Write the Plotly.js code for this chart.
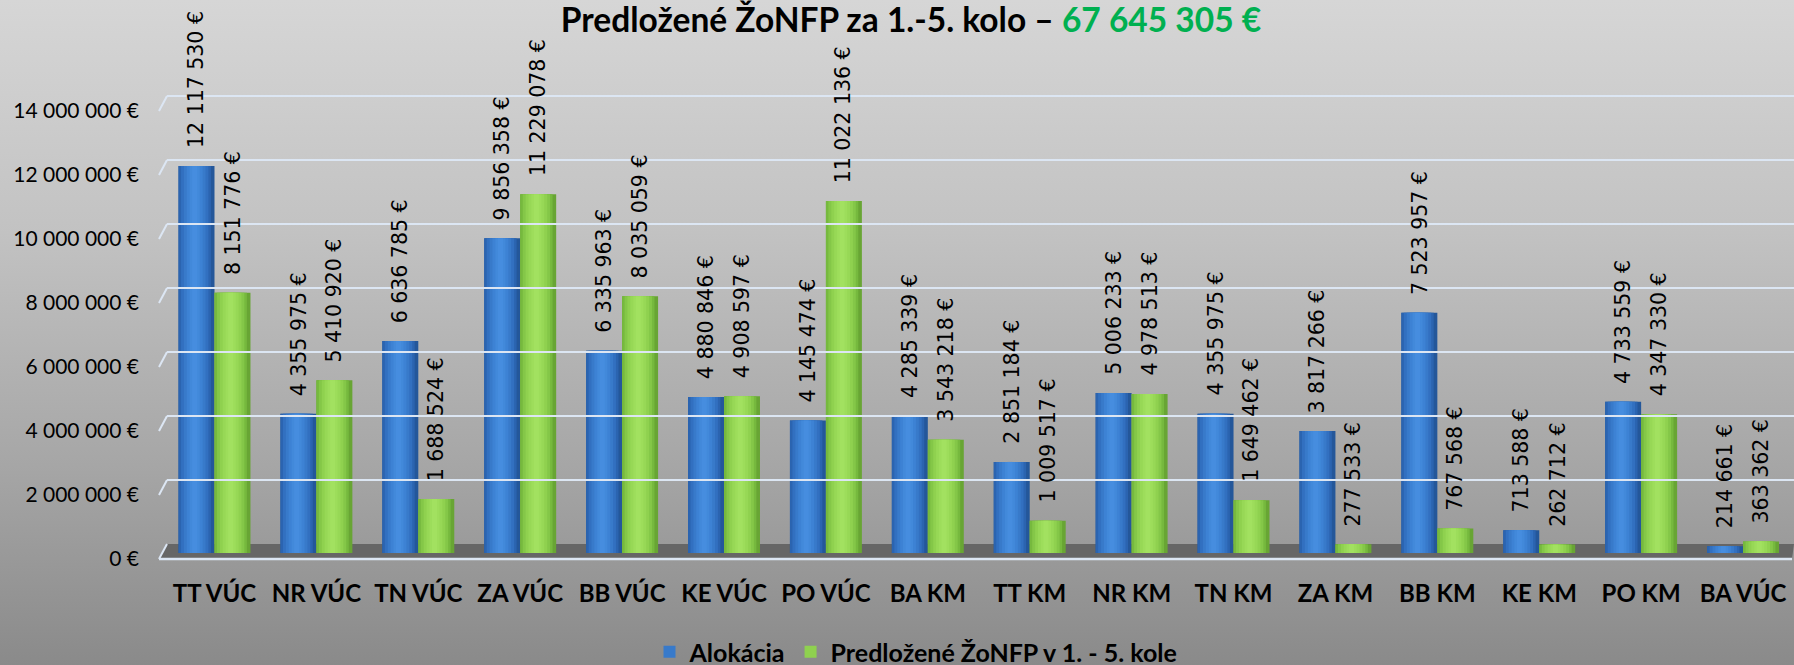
<!DOCTYPE html>
<html>
<head>
<meta charset="utf-8">
<script src="https://cdn.plot.ly/plotly-3.0.1.min.js"></script>
<style>
  html, body { margin: 0; padding: 0; }
  body { width: 1794px; height: 665px; background: linear-gradient(to bottom, #d6d6d6 0%, #c2c2c2 35%, #a6a6a6 70%, #8a8a8a 100%); }
  #chart { width: 1794px; height: 665px; }
</style>
</head>
<body>
<div id="chart"></div>
<script>
const categories = ["TT VÚC","NR VÚC","TN VÚC","ZA VÚC","BB VÚC","KE VÚC","PO VÚC","BA KM","TT KM","NR KM","TN KM","ZA KM","BB KM","KE KM","PO KM","BA VÚC"];
const alokacia = [12117530, 4355975, 6636785, 9856358, 6335963, 4880846, 4145474, 4285339, 2851184, 5006233, 4355975, 3817266, 7523957, 713588, 4733559, 214661];
const predlozene = [8151776, 5410920, 1688524, 11229078, 8035059, 4908597, 11022136, 3543218, 1009517, 4978513, 1649462, 277533, 767568, 262712, 4347330, 363362];
const seriesNames = ["Alokácia", "Predložené ŽoNFP v 1. - 5. kole"];
const yTickVals = [0, 2000000, 4000000, 6000000, 8000000, 10000000, 12000000, 14000000];
const titleMain = "Predložené ŽoNFP za 1.-5. kolo – ";
const titleTotal = "67 645 305 €";

const W = 1794, H = 665;
const px = v => v / W;            // paper x from pixel
const pyf = v => (H - v) / H;     // paper y from pixel

const bw = 0.353; // bar width in category units
const fmt = v => String(v).replace(/\B(?=(\d{3})+(?!\d))/g, " ") + " €";

const seriesDefs = [
  { name: seriesNames[0], values: alokacia, start: -bw,
    layers: [[1.0,'#24579a'],[0.9,'#2b64b0'],[0.76,'#3270c0'],[0.6,'#387aca'],[0.44,'#3d82d4'],[0.28,'#4289da'],[0.14,'#468ddf']], legendLayer: 3 },
  { name: seriesNames[1], values: predlozene, start: 0,
    layers: [[1.0,'#68a534'],[0.9,'#76b93e'],[0.76,'#84c748'],[0.6,'#8fd14f'],[0.44,'#97d856'],[0.28,'#9ddd5b'],[0.14,'#a2e160']], legendLayer: 3 }
];

const traces = [];
seriesDefs.forEach(s => {
  s.layers.forEach((ly, k) => {
    const w = ly[0];
    let left = Math.max(0, 0.45 - w / 2);
    if (left + w > 1) left = 1 - w;
    traces.push({
      type: 'bar', x: categories, y: s.values, name: s.name,
      offset: s.start + left * bw, width: w * bw,
      marker: { color: ly[1], line: { width: 0 } },
      showlegend: k === s.legendLayer, legendgroup: s.name,
      hoverinfo: 'skip', yaxis: 'y', xaxis: 'x'
    });
  });
});

const annotations = [];
seriesDefs.forEach(s => {
  s.values.forEach((v, i) => {
    annotations.push({
      x: i + s.start + bw / 2, y: v, xref: 'x', yref: 'y',
      text: fmt(v), textangle: -90, showarrow: false,
      xanchor: 'center', yanchor: 'bottom', yshift: 16,
      font: { family: 'DejaVu Sans', size: 20.5, color: '#000' }
    });
  });
});

// back-wall geometry (pixels): value 0 at y=544, 32 px per million
const gridPix = v => 544 - v / 1e6 * 32;
const slantPx = 15;
const gridColor = '#dce6f3';
const shapes = [];
shapes.push({ type: 'path', xref: 'paper', yref: 'paper', layer: 'below',
  path: `M ${px(167)},${pyf(544)} L 1,${pyf(544)} L ${px(1792)},${pyf(559)} L ${px(159)},${pyf(559)} Z`,
  fillcolor: '#666666', line: { width: 0 } });
shapes.push({ type: 'line', xref: 'paper', yref: 'paper', layer: 'below',
  x0: px(159), x1: px(1792), y0: pyf(559), y1: pyf(559), line: { color: gridColor, width: 2.5 } });
yTickVals.forEach(v => {
  const p = gridPix(v);
  shapes.push({ type: 'line', xref: 'paper', yref: 'paper', layer: 'below',
    x0: px(159), x1: px(167), y0: pyf(p + slantPx), y1: pyf(p), line: { color: gridColor, width: 2 } });
});

const layout = {
  width: W, height: H,
  margin: { l: 0, r: 0, t: 0, b: 0, pad: 0, autoexpand: false },
  paper_bgcolor: 'rgba(0,0,0,0)', plot_bgcolor: 'rgba(0,0,0,0)',
  separators: ', ',
  barmode: 'overlay',
  showlegend: true,
  title: {
    text: '<b>' + titleMain + '<span style="color:#00b050">' + titleTotal + '</span></b>',
    x: px(911), xanchor: 'center', xref: 'paper', y: pyf(20), yanchor: 'middle', yref: 'container',
    font: { family: 'Lato', size: 33.5, color: '#000' }
  },
  xaxis: {
    domain: [px(167), 1], range: [-0.466, 15.50], type: 'category',
    showgrid: false, zeroline: false, showline: false, ticks: '',
    anchor: 'y', ticklabelstandoff: 24, automargin: false,
    tickfont: { family: 'Lato', size: 24, weight: 'bold', color: '#000' }
  },
  yaxis: {
    domain: [pyf(553), pyf(553 - 15 * 31.94)], range: [0, 15000000],
    visible: false, showgrid: false, zeroline: false, anchor: 'x', automargin: false
  },
  yaxis2: {
    domain: [pyf(544), pyf(544 - 15 * 32)], range: [0, 15000000],
    anchor: 'x', side: 'left', showgrid: true, gridcolor: gridColor, gridwidth: 2,
    zeroline: false, showline: false, ticks: '', automargin: false,
    tickvals: yTickVals, ticktext: yTickVals.map(v => fmt(v)),
    ticklabelstandoff: 27, ticklabelshift: 15,
    tickfont: { family: 'Lato', size: 21, color: '#000' }
  },
  legend: {
    orientation: 'h', x: px(916), xanchor: 'center', y: pyf(652), yanchor: 'middle',
    font: { family: 'Lato', size: 25, weight: 'bold', color: '#000' },
    bgcolor: 'rgba(0,0,0,0)', itemwidth: 30, traceorder: 'normal'
  },
  annotations: annotations,
  shapes: shapes
};

// invisible trace to activate yaxis2 (gridlines + tick labels)
traces.push({ type: 'scatter', x: [categories[0]], y: [0], yaxis: 'y2', xaxis: 'x',
  mode: 'markers', marker: { opacity: 0 }, showlegend: false, hoverinfo: 'skip' });

Plotly.newPlot('chart', traces, layout, { displayModeBar: false, staticPlot: true });
</script>
</body>
</html>
